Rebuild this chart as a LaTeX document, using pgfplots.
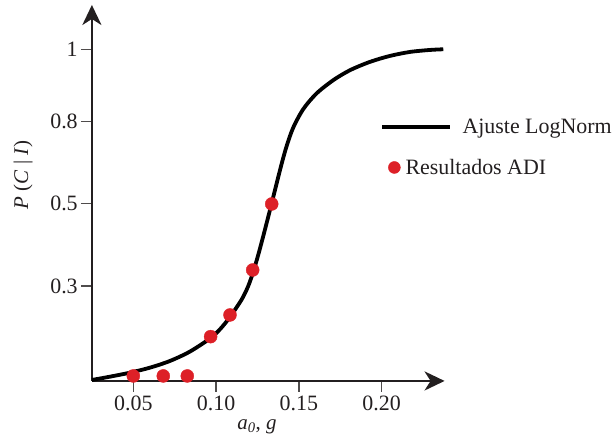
\documentclass[border=0pt]{standalone}
\usepackage{fontspec}
\setmainfont{Liberation Serif}
\usepackage{pgfplots}
\pgfplotsset{compat=1.18}
\usetikzlibrary{arrows.meta}

\definecolor{ink}{RGB}{35,31,32}
\definecolor{dotred}{RGB}{221,32,39}

\begin{document}
\begin{tikzpicture}
\begin{axis}[
    x=1656bp, y=331.7bp,
    xmin=0.025, xmax=0.238,
    ymin=0, ymax=1.1336,
    axis lines=left,
    axis line style={ink, line width=2.6bp, -{Stealth[length=20bp,width=19bp,inset=6bp]}},
    xtick={0.05,0.10,0.15,0.20},
    xticklabels={0.05,0.10,0.15,0.20},
    ytick={0.2864,0.5357,0.7817,1},
    yticklabels={0.3,0.5,0.8,1},
    tick align=outside,
    major tick length=11bp,
    tick style={ink!80, line width=1.4bp},
    tick label style={font=\fontsize{22}{26}\selectfont, text=ink},
    yticklabel style={inner xsep=3bp},
    xticklabel style={inner ysep=4bp},
    clip=false,
    legend cell align=left,
    legend style={draw=none, fill=none, inner sep=0pt,
        at={(axis cs:0.2038,0.796)}, anchor=north west,
        row sep=20bp,
        font=\fontsize{22}{26}\selectfont, text=ink},
]

% Ajuste LogNorm
\addplot[black, line width=3.8bp, smooth,
    legend image code/.code={\draw[overlay, black, line width=3.8bp] (-6bp,0) -- (62bp,0);}]
coordinates {
    (0.0250, 0.003)
    (0.0360, 0.013)
    (0.0480, 0.025)
    (0.0600, 0.040)
    (0.0720, 0.060)
    (0.0840, 0.088)
    (0.0963, 0.128)
    (0.1024, 0.156)
    (0.1084, 0.193)
    (0.1155, 0.246)
    (0.1194, 0.286)
    (0.1225, 0.330)
    (0.1255, 0.381)
    (0.1285, 0.437)
    (0.1315, 0.495)
    (0.1338, 0.540)
    (0.1366, 0.596)
    (0.1396, 0.655)
    (0.1426, 0.708)
    (0.1466, 0.764)
    (0.1527, 0.820)
    (0.1607, 0.867)
    (0.1708, 0.907)
    (0.1809, 0.937)
    (0.1929, 0.962)
    (0.2050, 0.980)
    (0.2171, 0.992)
    (0.2292, 0.998)
    (0.2372, 1.000)
};
\addlegendentry{\hspace*{57bp}Ajuste LogNorm}

% Resultados ADI
\addplot[only marks, mark=*, mark size=6.5bp, dotred,
    mark options={draw=none, fill=dotred},
    legend image code/.code={\fill[dotred] (6bp,0) circle (6bp); \path (15bp,0);}]
coordinates {
    (0.0500, 0.0151)
    (0.0681, 0.0151)
    (0.0826, 0.0151)
    (0.0967, 0.1336)
    (0.1084, 0.1990)
    (0.1221, 0.3346)
    (0.1336, 0.5336)
};
\addlegendentry{Resultados ADI}

\node[rotate=90, font=\fontsize{21}{25}\selectfont, text=ink]
    at (axis cs:-0.0166,0.621) {\textit{P} (\textit{C} | \textit{I})};
\node[font=\fontsize{21}{25}\selectfont, text=ink]
    at (axis cs:0.1247,-0.1387) {\textit{a}\textsubscript{\textit{0}}, \textit{g}};

\coordinate (bbl) at (axis cs:-0.0305,-0.1839);
\coordinate (btr) at (axis cs:0.3391,1.1486);
\end{axis}
\pgfresetboundingbox
\path[use as bounding box] (bbl) rectangle (btr);
\end{tikzpicture}
\end{document}
